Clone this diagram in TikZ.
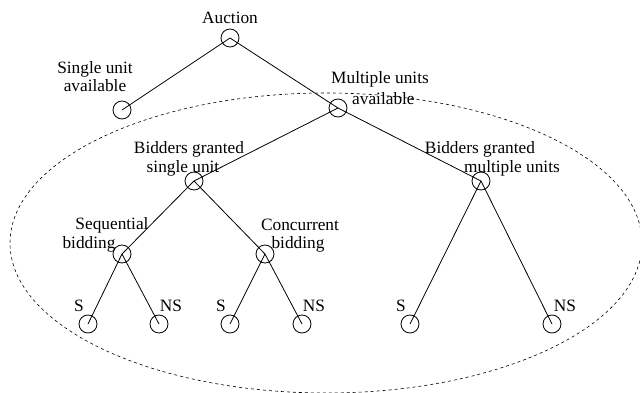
\documentclass[tikz,border=0pt]{standalone}
\usepackage{fontspec}
\setmainfont{Liberation Serif}
\begin{document}
\begin{tikzpicture}[x=1pt,y=-1pt,
  vtx/.style={circle,draw,line width=0.8pt,minimum size=18pt,inner sep=0pt},
  lbl/.style={inner sep=0pt,font=\fontsize{17.3}{18}\selectfont,align=center},
  edge/.style={line width=0.8pt},
  grp/.style={line width=0.6pt,dash pattern=on 3pt off 3pt}]
\useasboundingbox (0,0) rectangle (640,393);
% group ellipse
\draw[grp] (326,243) ellipse [x radius=316, y radius=150];
% vertices
\node[vtx] (auc) at (230,38) {};
\node[vtx] (sgl) at (122,110) {};
\node[vtx] (mul) at (338,108) {};
\node[vtx] (bsu) at (194,181) {};
\node[vtx] (bmu) at (481,181) {};
\node[vtx] (seq) at (122,254) {};
\node[vtx] (con) at (265,254) {};
\node[vtx] (s1) at (88,324) {};
\node[vtx] (n1) at (159,324) {};
\node[vtx] (s2) at (230,324) {};
\node[vtx] (n2) at (302,324) {};
\node[vtx] (s3) at (410,324) {};
\node[vtx] (n3) at (552,324) {};
% edges
\foreach \a/\b in {auc/sgl,auc/mul,mul/bsu,mul/bmu,bsu/seq,bsu/con,seq/s1,seq/n1,con/s2,con/n2,bmu/s3,bmu/n3}
  \draw[edge] (\a.center) -- (\b.center);
% labels
\node[lbl] (lauc) at (230,18) {Auction};
\node[lbl] (lsgl) at (95,77) {Single unit\\available};
\node[lbl] (lmul1) at (380,79) {Multiple units};
\node[lbl,anchor=west] (lmul2) at (352,99) {available};
\node[lbl] (lbsu1) at (189,149) {Bidders granted};
\node[lbl] (lbsu2) at (183,168) {single unit};
\node[lbl] (lbmu1) at (480,149) {Bidders granted};
\node[lbl] (lbmu2) at (512,168) {multiple units};
\node[lbl] (lseq1) at (112,225) {Sequential};
\node[lbl] (lseq2) at (89,244) {bidding};
\node[lbl] (lcon1) at (300,225) {Concurrent};
\node[lbl] (lcon2) at (298,244) {bidding};
\node[lbl] (ls1) at (79,306) {S};
\node[lbl] (ln1) at (171,306) {NS};
\node[lbl] (ls2) at (221,306) {S};
\node[lbl] (ln2) at (314,306) {NS};
\node[lbl] (ls3) at (401,306) {S};
\node[lbl] (ln3) at (565,306) {NS};
\end{tikzpicture}
\end{document}
